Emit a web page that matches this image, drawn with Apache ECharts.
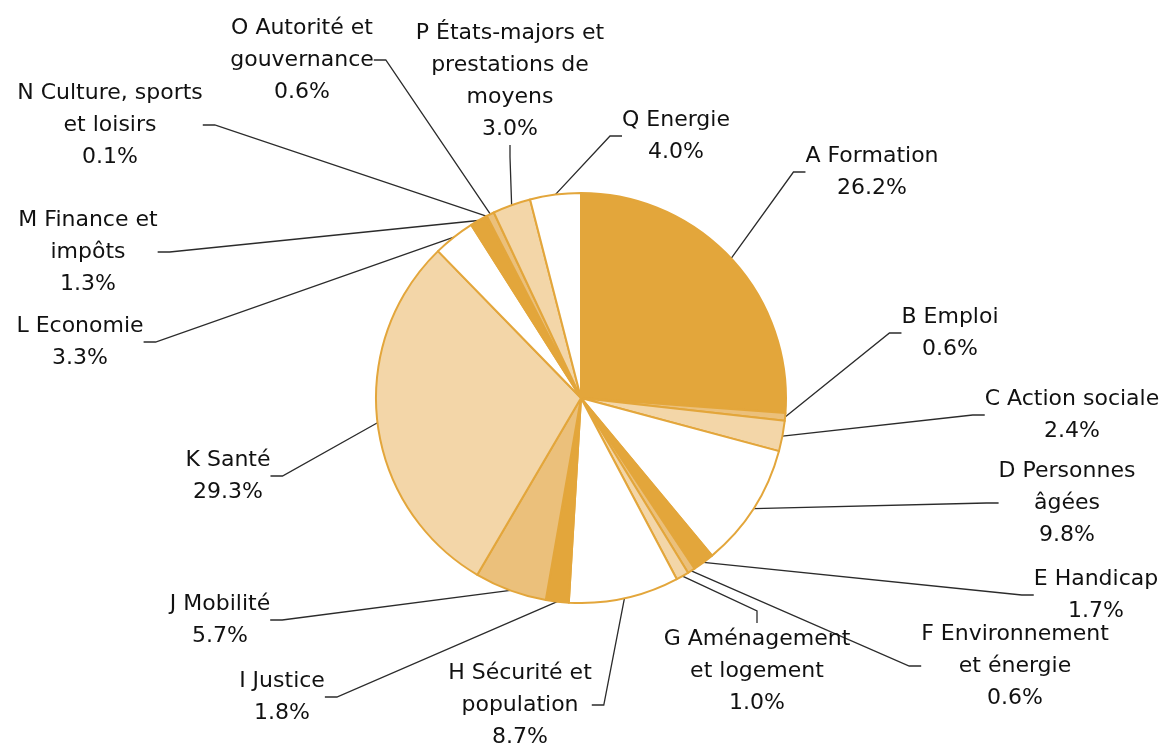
<!DOCTYPE html>
<html>
<head>
<meta charset="utf-8">
<script src="https://cdn.jsdelivr.net/npm/echarts@6/dist/echarts.min.js"></script>
<style>
  html, body { margin: 0; padding: 0; background: #fff; }
  #chart { width: 1168px; height: 745px; }
</style>
</head>
<body>
<div id="chart"></div>
<script>
var categories = [
    'A Formation',
    'B Emploi',
    'C Action sociale',
    'D Personnes\nâgées',
    'E Handicap',
    'F Environnement\net énergie',
    'G Aménagement\net logement',
    'H Sécurité et\npopulation',
    'I Justice',
    'J Mobilité',
    'K Santé',
    'L Economie',
    'M Finance et\nimpôts',
    'N Culture, sports\net loisirs',
    'O Autorité et\ngouvernance',
    'P États-majors et\nprestations de\nmoyens',
    'Q Energie'
]
var shares = [26.2, 0.6, 2.4, 9.8, 1.7, 0.6, 1.0, 8.7, 1.8, 5.7, 29.3, 3.3, 1.3, 0.1, 0.6, 3.0, 4.0]

// fill per slice
var DARK = '#e3a63b', MID = '#ebc07b', LIGHT = '#f3d6a8', WHITE = '#ffffff'
var fills = [DARK, MID, LIGHT, WHITE, DARK, MID, LIGHT, WHITE, DARK, MID, LIGHT, WHITE, DARK, DARK, MID, LIGHT, WHITE]

// label block centres (layout only)
var labelPos = [
    [872, 172], [950, 333], [1072, 415], [1067, 503], [1096, 595],
    [1015, 666], [757, 671], [520, 705], [282, 697], [220, 620],
    [228, 476], [80, 342], [88, 252], [110, 125], [302, 60],
    [510, 81], [676, 136]
]

window.onload = function () {
    var chart = echarts.init(document.getElementById('chart'))

    var data = categories.map(function (name, i) {
        return { name: name, value: shares[i], itemStyle: { color: fills[i] } }
    })

    chart.setOption({
        animation: false,
        series: [{
            type: 'pie',
            center: [581, 398],
            radius: 205,
            startAngle: 90,
            clockwise: true,
            avoidLabelOverlap: false,
            data: data,
            itemStyle: {
                borderColor: '#e3a63b',
                borderWidth: 2
            },
            label: {
                show: true,
                formatter: function (p) {
                    return p.name + '\n' + p.value.toFixed(1) + '%'
                },
                fontFamily: 'DejaVu Sans',
                fontSize: 22,
                lineHeight: 32,
                color: '#111',
                align: 'center'
            },
            labelLine: {
                show: true,
                length: 10,
                length2: 12,
                lineStyle: { color: '#2b2b2b', width: 1.3 }
            },
            labelLayout: function (params) {
                var p = labelPos[params.dataIndex]
                return { x: p[0], y: p[1], align: 'center', verticalAlign: 'middle' }
            }
        }]
    })
}
</script>
</body>
</html>
